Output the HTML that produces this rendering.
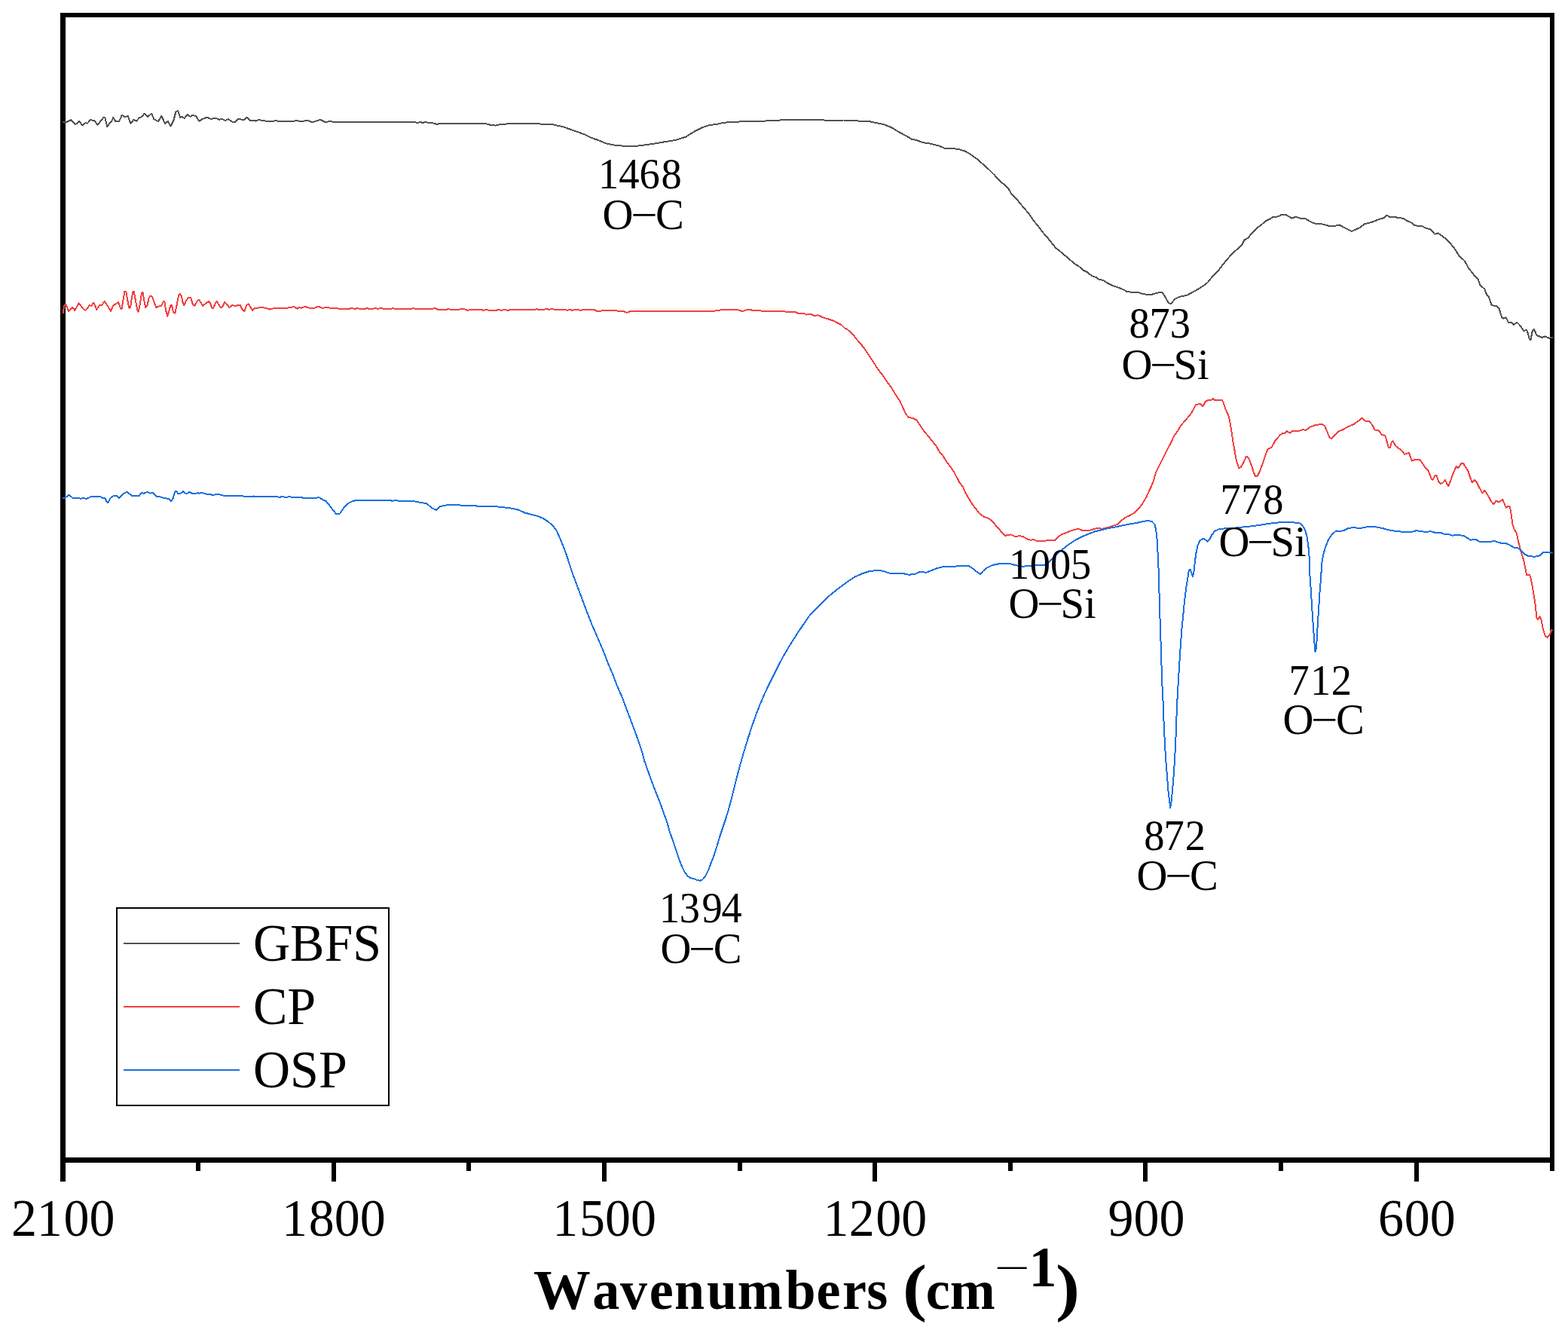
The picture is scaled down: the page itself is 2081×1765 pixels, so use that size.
<!DOCTYPE html>
<html lang="en">
<head>
<meta charset="utf-8">
<style>
html,body{margin:0;padding:0;background:#fff;}
body{width:2081px;height:1765px;overflow:hidden;}
svg{display:block;}
text{font-family:"Liberation Serif",serif;fill:#000;}
.tick{font-size:68px;}
.ann{font-size:55.5px;}
.num{font-size:54.5px;}
.leg{font-size:68px;}
.title{font-size:72px;font-weight:bold;}
.curve{fill:none;stroke-width:2;stroke-linejoin:round;stroke-linecap:butt;}
</style>
</head>
<body>
<svg width="2081" height="1765" viewBox="0 0 2081 1765">
<rect x="0" y="0" width="2081" height="1765" fill="#ffffff"/>
<g id="frame" fill="#000" shape-rendering="crispEdges">
<rect x="80" y="17" width="7" height="1551"/>
<rect x="80" y="17" width="1983" height="6"/>
<rect x="2057" y="17" width="6" height="1537"/>
<rect x="80" y="1536" width="1983" height="7"/>
<rect x="440" y="1540" width="6" height="28"/>
<rect x="799" y="1540" width="6" height="28"/>
<rect x="1158" y="1540" width="6" height="28"/>
<rect x="1517" y="1540" width="6" height="28"/>
<rect x="1877" y="1540" width="6" height="28"/>
<rect x="260" y="1540" width="6" height="14"/>
<rect x="619" y="1540" width="6" height="14"/>
<rect x="979" y="1540" width="6" height="14"/>
<rect x="1338" y="1540" width="6" height="14"/>
<rect x="1697" y="1540" width="6" height="14"/>
</g>
<g id="curves" shape-rendering="crispEdges">
<path class="curve" stroke="#515151" d="M83.3,161.5 L88.7,161.9 L93.9,159.2 L100.2,165.2 L105.1,161.0 L109.3,166.2 L113.7,162.9 L115.7,163.9 L120.1,159.2 L125.3,160.0 L129.5,165.8 L137.4,155.8 L139.2,156.1 L142.3,168.1 L146.5,162.3 L148.0,161.5 L150.4,155.8 L153.3,161.0 L158.1,161.0 L161.9,152.9 L165.8,155.2 L169.6,153.8 L173.5,163.9 L177.3,159.0 L181.2,160.6 L185.1,156.1 L188.0,155.2 L191.4,150.7 L196.2,154.8 L201.1,150.7 L204.3,158.1 L210.1,161.0 L214.4,153.8 L218.8,163.9 L222.7,161.0 L226.5,167.3 L230.4,160.0 L233.3,148.4 L236.1,147.1 L239.0,155.8 L241.9,155.2 L244.8,157.1 L248.7,151.9 L252.5,154.8 L255.4,152.9 L260.2,154.2 L264.5,161.0 L268.0,158.1 L274.7,155.8 L279.5,157.7 L287.2,157.1 L291.1,158.7 L294.9,158.1 L298.8,160.0 L302.7,158.1 L308.4,161.9 L312.3,161.9 L316.1,158.1 L323.9,159.0 L327.7,155.8 L331.6,159.6 L339.3,160.6 L343.1,159.0 L352.8,160.6 L360.5,161.5 L366.3,160.0 L370.1,161.0 L385.5,161.5 L394.2,160.0 L400.0,161.5 L407.7,159.6 L414.5,162.3 L425.1,158.7 L431.8,162.3 L439.5,160.6 L441.4,161.9 L550.4,161.9 L553.3,163.1 L558.1,161.9 L561.0,163.1 L564.8,161.5 L568.7,163.1 L573.5,163.1 L580.2,165.0 L583.1,163.9 L643.9,163.9 L650.6,165.8 L657.3,166.6 L664.1,165.0 L671.8,164.6 L673.7,163.9 L716.1,163.9 L718.1,165.0 L733.5,165.0 L737.3,166.2 L747.0,168.1 L756.6,171.6 L766.3,175.0 L775.9,178.5 L785.5,183.1 L793.3,185.8 L804.1,190.3 L817.6,193.0 L834.9,194.2 L846.5,193.6 L863.9,191.3 L881.2,188.4 L896.6,185.9 L910.1,181.7 L921.7,174.3 L931.3,169.5 L941.0,166.2 L952.5,164.7 L958.3,163.2 L969.9,161.8 L985.3,161.4 L989.2,160.5 L1016.1,160.5 L1027.7,159.9 L1047.0,158.9 L1066.3,159.3 L1085.5,158.9 L1100.0,159.9 L1119.3,159.5 L1138.6,160.5 L1152.0,160.8 L1163.6,163.2 L1173.3,165.3 L1182.9,169.1 L1192.5,174.9 L1202.2,180.1 L1209.9,184.6 L1215.7,185.9 L1225.3,189.2 L1234.9,190.7 L1246.5,193.6 L1254.2,196.9 L1263.9,196.9 L1273.5,198.4 L1281.2,200.7 L1287.0,204.2 L1296.6,211.0 L1304.3,217.7 L1312.0,224.5 L1319.8,232.2 L1325.5,238.9 L1331.3,243.7 L1339.0,251.4 L1342.9,258.2 L1350.6,265.9 L1356.4,273.0 L1366.0,284.2 L1371.8,292.9 L1377.6,299.6 L1383.4,307.7 L1389.2,314.1 L1394.9,321.2 L1400.7,328.6 L1408.4,334.7 L1418.1,343.0 L1425.8,349.8 L1431.6,353.2 L1437.3,358.4 L1443.1,361.3 L1448.9,366.1 L1454.7,368.1 L1458.6,371.0 L1464.3,371.9 L1470.1,375.8 L1475.9,378.7 L1485.5,382.0 L1491.3,384.5 L1495.2,387.0 L1504.0,388.0 L1511.7,388.3 L1517.5,390.3 L1527.1,391.2 L1534.8,388.9 L1541.6,387.6 L1544.5,390.8 L1548.3,397.6 L1551.2,402.4 L1554.1,403.0 L1558.9,397.2 L1565.7,393.7 L1575.3,391.8 L1584.9,386.6 L1592.7,382.2 L1602.3,375.4 L1610.0,365.8 L1617.7,358.1 L1623.5,350.4 L1629.3,343.6 L1635.1,336.5 L1642.8,330.1 L1648.6,324.3 L1651.4,318.6 L1656.3,315.7 L1661.1,309.9 L1665.9,305.6 L1668.8,302.2 L1673.6,298.7 L1679.4,293.5 L1685.2,290.6 L1689.0,288.3 L1696.7,287.3 L1700.3,284.8 L1706.1,284.8 L1714.7,289.6 L1719.6,287.7 L1725.3,289.6 L1732.1,290.0 L1737.9,293.5 L1743.7,296.4 L1754.3,297.3 L1763.9,299.9 L1772.6,299.7 L1777.4,298.3 L1783.2,301.6 L1793.8,307.0 L1804.4,302.2 L1811.1,297.3 L1821.7,294.5 L1831.4,290.6 L1837.1,289.1 L1840.6,285.8 L1843.9,287.7 L1852.6,288.1 L1855.5,289.3 L1862.2,289.6 L1867.0,292.9 L1873.8,295.8 L1877.6,299.3 L1887.3,300.2 L1892.1,302.6 L1898.8,304.5 L1904.2,310.8 L1908.5,309.3 L1918.1,316.2 L1924.9,323.0 L1930.6,330.1 L1936.4,339.4 L1944.1,346.5 L1949.0,356.1 L1953.8,361.5 L1956.7,365.8 L1961.5,370.2 L1964.4,378.3 L1970.2,383.5 L1973.0,390.8 L1975.9,394.3 L1979.8,405.3 L1985.6,405.9 L1989.4,409.2 L1993.3,421.3 L1995.6,422.7 L1998.7,421.3 L2002.0,427.9 L2005.8,427.5 L2008.7,430.9 L2013.5,428.0 L2018.3,432.9 L2022.2,439.0 L2026.1,438.1 L2028.0,442.9 L2029.9,450.6 L2031.5,450.6 L2033.8,439.0 L2035.7,436.7 L2039.6,445.2 L2043.4,446.4 L2046.3,448.1 L2050.2,446.4 L2055.9,448.7 L2060.8,447.7"/>
<path class="curve" stroke="#F14040" d="M83.9,416.2 L84.8,406.5 L86.7,403.6 L88.7,406.5 L91.0,413.3 L94.5,409.0 L96.4,408.1 L99.3,411.9 L102.2,406.5 L104.7,402.3 L108.0,406.5 L110.8,410.4 L113.7,411.9 L116.6,408.5 L118.6,405.2 L121.1,405.8 L124.3,401.9 L126.3,405.8 L128.2,411.0 L132.0,405.2 L134.9,405.2 L138.8,400.0 L141.7,404.2 L144.6,409.0 L147.1,412.9 L150.4,405.2 L153.3,403.6 L157.1,400.9 L159.6,408.1 L161.5,410.4 L163.5,398.4 L165.4,386.5 L167.3,386.5 L169.3,398.4 L171.2,408.7 L173.1,408.1 L175.0,394.6 L176.4,387.3 L177.9,387.3 L180.2,400.4 L182.2,411.0 L183.7,413.9 L186.0,402.3 L188.0,388.4 L189.5,388.4 L191.4,399.4 L193.3,408.1 L195.3,406.1 L197.6,395.5 L199.5,392.7 L202.0,393.6 L204.3,400.4 L207.2,408.1 L211.1,406.5 L214.0,406.1 L216.9,400.0 L218.4,400.4 L220.3,412.9 L222.3,419.6 L224.6,411.9 L226.5,404.8 L228.0,405.2 L230.0,413.9 L232.3,415.8 L234.8,404.2 L237.1,391.7 L239.0,389.8 L241.0,393.6 L242.9,402.3 L244.4,405.2 L247.3,398.4 L250.6,394.6 L253.1,395.0 L256.0,404.2 L258.3,405.8 L261.8,399.4 L264.1,397.5 L267.0,402.3 L268.9,405.8 L272.8,402.9 L277.0,400.0 L279.1,402.3 L281.4,409.0 L283.4,408.5 L285.9,401.9 L287.8,400.0 L290.1,404.2 L293.0,408.1 L294.9,407.7 L298.4,400.9 L300.7,403.3 L304.2,408.1 L308.4,404.8 L312.3,406.5 L316.1,404.6 L319.0,405.2 L321.9,411.5 L324.4,412.9 L327.1,405.2 L329.3,403.3 L331.6,406.1 L335.0,411.9 L338.3,409.0 L347.0,408.1 L352.8,408.7 L357.6,410.6 L364.3,409.0 L372.0,409.4 L381.7,408.5 L390.4,407.1 L394.2,409.6 L397.1,408.1 L400.0,408.7 L404.8,406.9 L409.6,408.5 L417.3,408.8 L422.2,406.7 L428.0,408.8 L431.8,408.1 L452.0,409.8 L463.6,409.8 L466.5,408.8 L471.3,410.0 L474.2,408.8 L477.1,409.8 L484.8,409.8 L486.7,408.8 L489.6,410.0 L495.4,409.8 L498.3,408.8 L501.2,410.0 L505.1,408.8 L508.9,409.8 L519.5,409.8 L521.4,408.8 L523.4,409.8 L546.5,409.8 L548.4,408.8 L550.4,409.8 L574.5,409.8 L577.3,408.8 L581.2,410.8 L592.8,410.8 L595.7,409.8 L597.6,410.8 L609.2,410.8 L612.0,409.8 L615.9,410.0 L620.7,412.1 L623.6,410.8 L639.0,410.8 L641.0,411.9 L645.8,410.8 L649.6,411.9 L658.3,411.9 L661.2,410.8 L665.1,411.9 L669.9,410.8 L673.7,411.9 L678.6,410.8 L710.4,410.8 L712.3,409.8 L714.2,410.8 L721.9,410.8 L725.8,409.8 L728.7,411.0 L732.5,409.8 L736.4,411.0 L750.8,411.0 L752.8,411.9 L756.6,410.8 L759.5,411.9 L762.4,411.0 L768.2,411.0 L770.1,411.9 L774.9,411.0 L788.4,411.0 L792.3,412.9 L808.0,411.8 L827.2,413.0 L832.0,414.9 L836.9,413.0 L854.2,413.0 L873.5,413.4 L912.0,413.4 L941.0,413.0 L950.6,412.4 L956.4,411.4 L979.5,411.4 L985.3,413.0 L991.1,411.1 L1008.4,412.2 L1016.1,413.4 L1037.3,413.0 L1050.0,414.5 L1054.8,413.7 L1058.7,415.6 L1067.3,416.0 L1070.2,417.6 L1077.0,417.0 L1079.9,418.9 L1085.7,418.3 L1093.4,421.8 L1100.1,423.7 L1106.9,426.0 L1111.7,428.6 L1116.5,431.1 L1121.3,435.7 L1124.2,436.8 L1129.0,441.1 L1132.9,444.9 L1136.7,450.1 L1142.5,456.5 L1148.3,464.2 L1154.1,472.9 L1159.9,481.6 L1164.7,489.3 L1171.4,498.0 L1177.2,506.6 L1183.0,514.3 L1188.8,524.0 L1194.6,532.7 L1198.4,541.3 L1202.3,549.6 L1206.1,553.9 L1211.0,554.8 L1216.7,557.7 L1220.6,563.5 L1225.4,570.8 L1231.2,578.0 L1237.0,585.1 L1242.8,592.4 L1246.6,599.2 L1251.4,604.9 L1256.3,612.7 L1262.0,620.4 L1265.9,626.1 L1269.8,633.3 L1273.6,640.6 L1278.4,647.0 L1281.3,654.1 L1286.1,661.8 L1290.0,668.6 L1294.8,674.9 L1299.6,681.1 L1306.4,686.3 L1310.2,686.9 L1316.0,690.7 L1319.9,695.0 L1322.8,699.0 L1326.6,702.9 L1330.5,707.7 L1334.0,711.0 L1337.2,710.0 L1342.0,709.4 L1347.8,712.5 L1352.7,711.0 L1358.4,712.5 L1364.2,715.8 L1368.1,716.7 L1371.9,715.8 L1376.7,718.3 L1385.4,718.3 L1389.3,717.1 L1399.9,717.1 L1407.7,709.8 L1417.3,705.9 L1425.1,703.0 L1431.8,702.0 L1436.6,704.0 L1446.3,703.6 L1455.9,701.1 L1463.6,701.7 L1473.3,699.2 L1482.9,695.9 L1488.7,690.5 L1494.5,686.2 L1500.2,683.7 L1505.1,680.8 L1509.9,676.6 L1515.7,669.3 L1521.4,659.6 L1527.2,647.1 L1531.1,637.5 L1534.0,626.9 L1536.9,621.1 L1542.7,609.5 L1548.4,598.0 L1554.2,587.3 L1558.1,578.7 L1562.9,571.9 L1567.7,564.2 L1573.5,557.5 L1579.3,550.7 L1583.1,544.9 L1587.0,537.2 L1590.8,536.3 L1593.7,536.3 L1595.7,539.2 L1597.6,537.2 L1599.5,533.4 L1602.4,531.4 L1607.2,531.1 L1609.7,529.1 L1612.0,530.9 L1617.8,531.1 L1621.7,530.5 L1623.6,534.3 L1626.5,543.0 L1630.4,551.7 L1632.3,559.4 L1634.2,571.0 L1636.1,584.5 L1638.1,595.1 L1640.0,606.6 L1641.9,614.3 L1644.4,621.1 L1646.7,620.1 L1650.6,613.4 L1653.5,606.6 L1655.4,605.7 L1658.3,610.5 L1661.2,618.2 L1664.1,627.8 L1666.4,632.3 L1668.9,631.7 L1671.8,625.9 L1675.7,615.3 L1679.5,603.7 L1682.4,596.0 L1687.2,594.1 L1692.6,584.6 L1699.3,576.9 L1702.2,574.9 L1705.1,575.5 L1708.0,572.0 L1711.8,574.6 L1715.7,571.5 L1725.3,571.5 L1729.2,570.1 L1733.0,571.1 L1738.8,566.7 L1746.5,563.8 L1755.2,563.0 L1758.1,565.3 L1761.0,572.0 L1764.3,580.1 L1766.8,582.1 L1770.6,578.8 L1777.4,572.0 L1781.2,570.7 L1789.0,566.3 L1796.7,563.0 L1803.4,558.2 L1807.8,554.7 L1813.0,559.5 L1816.9,559.1 L1820.8,563.4 L1824.6,570.5 L1829.4,571.1 L1834.3,577.3 L1838.1,577.8 L1840.0,583.6 L1842.9,594.2 L1844.9,594.2 L1846.8,586.5 L1848.7,585.5 L1852.6,592.3 L1860.3,597.7 L1864.1,602.9 L1869.9,601.0 L1873.8,611.6 L1877.6,610.0 L1884.4,610.0 L1888.2,615.4 L1892.1,621.2 L1895.9,625.1 L1899.8,635.7 L1901.7,636.6 L1904.6,630.8 L1906.5,630.8 L1909.4,639.5 L1912.3,642.0 L1915.2,640.5 L1918.1,637.0 L1920.0,641.4 L1922.3,645.3 L1924.9,638.6 L1928.7,628.0 L1932.6,618.9 L1935.5,621.2 L1939.3,615.0 L1942.2,615.0 L1945.1,620.2 L1948.0,624.1 L1950.9,632.8 L1953.8,640.5 L1956.7,637.2 L1958.6,638.0 L1962.4,645.3 L1967.3,654.4 L1970.2,651.1 L1974.0,655.9 L1978.8,665.0 L1982.1,669.0 L1985.6,664.6 L1989.4,666.5 L1994.3,662.7 L1996.2,667.5 L1998.7,673.6 L2002.0,671.7 L2003.9,672.3 L2005.8,683.9 L2007.7,697.3 L2009.7,702.2 L2013.0,708.0 L2015.5,720.5 L2018.3,731.1 L2022.2,743.6 L2026.1,763.3 L2029.9,762.5 L2031.8,767.7 L2034.7,784.1 L2037.2,799.5 L2039.6,820.7 L2041.1,821.7 L2043.4,818.4 L2045.3,821.7 L2048.2,836.1 L2050.7,843.9 L2054.0,845.8 L2056.9,841.9 L2058.8,836.1 L2060.4,837.1"/>
<path class="curve" stroke="#1A6FDF" d="M83.3,661.0 L86.7,660.6 L91.6,656.7 L96.4,660.8 L104.1,661.0 L107.0,661.9 L110.8,660.8 L114.7,661.9 L121.4,659.0 L133.0,658.8 L135.9,660.6 L139.2,661.0 L141.7,665.8 L143.6,667.1 L146.5,661.0 L150.4,658.1 L155.2,658.1 L158.1,661.0 L163.9,655.2 L168.7,652.7 L171.6,655.2 L175.4,658.1 L180.2,658.5 L185.1,657.7 L188.0,653.8 L190.8,654.8 L195.7,652.7 L199.5,654.8 L202.4,653.8 L208.2,658.8 L212.0,659.2 L217.8,661.0 L223.6,661.9 L227.1,665.2 L229.4,661.9 L232.3,652.3 L234.2,652.3 L236.1,654.8 L240.0,654.6 L242.9,651.9 L246.7,655.2 L249.6,654.2 L251.6,652.9 L255.4,655.2 L260.2,654.8 L262.2,653.8 L264.1,654.8 L267.0,653.6 L273.7,655.8 L280.5,656.5 L283.4,657.1 L287.2,655.6 L293.0,656.7 L297.8,658.1 L321.9,658.1 L323.9,659.0 L335.4,659.0 L336.4,658.1 L337.3,659.0 L368.2,659.0 L370.1,660.0 L374.9,659.0 L379.8,660.0 L383.6,659.0 L387.5,659.8 L399.0,659.8 L400.0,659.8 L401.9,660.8 L417.3,661.2 L423.1,660.0 L428.0,662.9 L432.8,665.2 L436.6,669.6 L441.4,676.4 L445.9,681.6 L451.1,681.6 L455.9,674.5 L461.7,668.3 L467.5,665.2 L473.3,663.9 L517.6,663.9 L520.5,664.8 L524.3,663.9 L530.1,664.8 L548.4,664.8 L554.2,666.2 L560.0,667.3 L566.2,668.1 L570.6,672.0 L575.4,675.4 L579.3,676.8 L584.1,672.1 L588.9,671.2 L594.7,670.0 L610.1,670.0 L612.0,671.0 L631.3,671.0 L633.3,672.0 L658.3,672.0 L662.2,672.7 L669.9,673.5 L677.6,674.5 L687.2,676.4 L696.9,680.6 L706.5,683.1 L714.2,685.1 L721.0,688.0 L727.7,692.4 L733.5,697.6 L738.3,703.4 L742.2,712.0 L747.0,723.6 L751.8,736.1 L756.6,751.6 L762.4,768.0 L768.2,783.4 L774.0,798.8 L779.8,814.2 L785.5,828.7 L790.4,840.0 L795.4,851.6 L801.2,865.1 L807.0,880.5 L813.7,895.9 L819.5,911.3 L826.3,926.7 L832.0,942.2 L837.8,957.6 L843.6,973.0 L848.4,986.5 L852.3,998.1 L855.2,1009.6 L860.0,1023.1 L864.8,1036.6 L869.6,1049.2 L875.4,1063.6 L880.2,1077.1 L885.1,1090.6 L888.9,1104.1 L893.7,1117.6 L897.6,1129.2 L901.4,1140.7 L905.3,1150.4 L909.2,1158.1 L913.0,1162.9 L916.9,1165.4 L920.7,1165.8 L924.6,1167.7 L929.0,1168.7 L932.3,1167.3 L936.1,1162.9 L940.0,1155.2 L943.9,1144.6 L947.7,1134.9 L951.6,1122.4 L955.4,1109.9 L959.3,1098.3 L963.1,1086.7 L967.0,1074.2 L969.9,1063.6 L972.8,1052.0 L975.7,1040.5 L979.1,1027.0 L982.4,1014.5 L986.3,1001.0 L990.1,988.4 L994.0,975.9 L998.8,961.4 L1003.6,948.0 L1008.4,935.4 L1014.2,921.9 L1020.0,909.4 L1026.7,895.9 L1033.5,882.4 L1040.2,869.9 L1047.0,858.3 L1053.7,847.7 L1058.6,840.0 L1073.3,818.3 L1082.9,807.7 L1092.5,798.1 L1102.2,789.4 L1111.8,781.7 L1123.4,773.0 L1134.9,765.3 L1144.6,761.1 L1154.2,758.0 L1163.9,757.0 L1171.6,757.6 L1181.2,760.9 L1198.6,761.1 L1206.3,762.8 L1214.0,761.8 L1221.7,758.6 L1229.4,759.9 L1237.1,756.6 L1244.8,753.7 L1252.5,752.0 L1278.9,751.2 L1285.7,750.8 L1291.4,754.7 L1297.2,759.5 L1301.1,761.8 L1304.9,757.6 L1309.8,753.7 L1317.5,749.9 L1327.1,748.0 L1340.6,748.0 L1348.3,750.3 L1358.0,751.8 L1365.7,750.8 L1375.3,749.9 L1384.9,750.5 L1390.7,747.0 L1398.4,739.3 L1408.1,730.6 L1417.7,722.9 L1427.3,716.7 L1438.9,710.9 L1452.4,705.5 L1467.8,701.7 L1481.3,699.2 L1496.7,695.9 L1510.2,693.6 L1518.0,691.7 L1523.7,691.1 L1528.6,692.0 L1532.4,695.9 L1534.3,703.6 L1535.7,717.1 L1536.7,736.4 L1537.6,755.7 L1538.3,779.3 L1539.1,808.2 L1540.2,841.0 L1541.2,871.8 L1542.1,902.7 L1543.5,929.6 L1544.5,956.6 L1545.4,975.9 L1546.4,995.2 L1547.7,1014.5 L1549.3,1033.7 L1550.6,1051.1 L1552.2,1062.7 L1553.1,1071.9 L1554.7,1062.7 L1556.0,1049.2 L1557.6,1029.9 L1558.9,1010.6 L1559.9,991.3 L1560.8,972.0 L1561.4,952.8 L1562.4,929.6 L1563.7,906.5 L1565.1,883.4 L1566.6,860.2 L1568.2,837.1 L1570.1,817.8 L1572.0,798.6 L1574.3,779.3 L1576.3,767.7 L1577.7,757.6 L1579.6,755.7 L1581.6,761.4 L1583.1,764.9 L1584.5,758.6 L1585.8,746.0 L1587.3,734.5 L1589.3,724.8 L1592.2,718.1 L1596.0,714.8 L1598.9,715.6 L1602.8,718.7 L1605.7,715.2 L1608.6,709.4 L1612.4,704.6 L1618.2,702.1 L1625.9,701.3 L1635.5,701.3 L1642.9,700.1 L1656.4,698.8 L1669.9,697.2 L1683.4,694.9 L1696.9,693.4 L1708.4,693.0 L1723.9,693.8 L1727.7,696.3 L1731.6,702.0 L1734.5,711.7 L1736.4,725.2 L1737.7,740.6 L1738.2,760.0 L1739.5,779.3 L1741.1,804.3 L1742.6,827.5 L1744.0,846.7 L1744.9,860.2 L1745.5,865.1 L1746.9,860.2 L1747.8,846.7 L1748.8,827.5 L1750.1,808.2 L1751.3,788.9 L1752.7,771.6 L1754.3,747.5 L1756.2,735.9 L1759.1,726.3 L1762.9,716.6 L1767.7,708.9 L1773.5,704.5 L1777.4,705.1 L1783.2,704.1 L1789.0,701.2 L1797.6,699.7 L1801.5,701.2 L1806.3,700.8 L1814.0,699.3 L1825.6,699.3 L1835.2,701.2 L1844.9,703.7 L1854.5,705.1 L1864.1,706.0 L1873.8,706.0 L1879.6,704.1 L1885.3,705.1 L1893.0,706.0 L1898.8,705.1 L1903.7,706.6 L1912.3,707.0 L1917.1,708.9 L1923.9,709.5 L1927.7,710.8 L1931.6,709.9 L1942.2,710.8 L1947.0,713.7 L1951.8,716.6 L1958.6,716.0 L1963.4,718.6 L1972.1,719.5 L1983.7,718.0 L1991.4,720.5 L1997.1,720.5 L2002.9,723.0 L2009.7,726.8 L2014.5,727.2 L2019.3,731.1 L2023.2,735.5 L2028.0,737.8 L2036.7,738.8 L2043.4,737.3 L2048.2,733.0 L2056.9,732.6 L2060.4,734.0"/>
</g>
<g id="ticklabels">
<text class="tick" transform="translate(16.5 1640) scale(1 1.025)" x="-1.5 32.2 68.0 102.0">2100</text>
<text class="tick" transform="translate(375.7 1640) scale(1 1.025)" x="-1.8 34.0 68.0 102.0">1800</text>
<text class="tick" transform="translate(735.0 1640) scale(1 1.025)" x="-1.8 34.0 68.0 102.0">1500</text>
<text class="tick" transform="translate(1094.2 1640) scale(1 1.025)" x="-1.8 32.5 68.0 102.0">1200</text>
<text class="tick" transform="translate(1470.5 1640) scale(1 1.025)" x="0.0 34.0 68.0">900</text>
<text class="tick" transform="translate(1829.7 1640) scale(1 1.025)" x="-0.6 34.0 68.0">600</text>
</g>
<g id="annotations">
<text class="ann num" transform="translate(794.0 249.8) scale(1 1.035)" x="0.0 27.3 54.5 83.4">1468</text>
<text class="ann" transform="translate(799.6 304.1) scale(1.02 1.015)">O<tspan x="36.9" textLength="34.7" lengthAdjust="spacingAndGlyphs">−</tspan><tspan x="69.1">C</tspan></text>
<text class="ann num" transform="translate(1498.4 447.8) scale(1 1.035)" x="0.0 27.1 54.3">873</text>
<text class="ann" transform="translate(1488.4 503.3) scale(1.02 1.015)">O<tspan x="36.9" textLength="34.7" lengthAdjust="spacingAndGlyphs">−</tspan><tspan x="67.7">Si</tspan></text>
<text class="ann num" transform="translate(1619.4 681.7) scale(1 1.035)" x="0.0 27.9 56.9">778</text>
<text class="ann" transform="translate(1617.4 738.4) scale(1.02 1.015)">O<tspan x="36.9" textLength="34.7" lengthAdjust="spacingAndGlyphs">−</tspan><tspan x="67.7">Si</tspan></text>
<text class="ann num" transform="translate(1338.9 767.5) scale(1 1.035)" x="0.0 27.9 55.0 82.0">1005</text>
<text class="ann" transform="translate(1338.4 819.5) scale(1.02 1.015)">O<tspan x="36.9" textLength="34.7" lengthAdjust="spacingAndGlyphs">−</tspan><tspan x="67.7">Si</tspan></text>
<text class="ann num" transform="translate(1710.4 921.8) scale(1 1.035)" x="0.0 28.7 56.3">712</text>
<text class="ann" transform="translate(1702.5 973.5) scale(1.02 1.015)">O<tspan x="36.9" textLength="34.7" lengthAdjust="spacingAndGlyphs">−</tspan><tspan x="69.1">C</tspan></text>
<text class="ann num" transform="translate(1518.3 1127.8) scale(1 1.035)" x="0.0 26.1 54.4">872</text>
<text class="ann" transform="translate(1508.6 1180.7) scale(1.02 1.015)">O<tspan x="36.9" textLength="34.7" lengthAdjust="spacingAndGlyphs">−</tspan><tspan x="69.1">C</tspan></text>
<text class="ann num" transform="translate(875.0 1223.7) scale(1 1.035)" x="0.0 26.8 56.5 82.4">1394</text>
<text class="ann" transform="translate(876.4 1278.4) scale(1.02 1.015)">O<tspan x="36.9" textLength="34.7" lengthAdjust="spacingAndGlyphs">−</tspan><tspan x="69.1">C</tspan></text>
</g>
<g id="legend">
<rect x="155" y="1205" width="361" height="262" fill="#fff" stroke="#000" stroke-width="2" shape-rendering="crispEdges"/>
<rect x="164" y="1250.5" width="154" height="2" fill="#515151" shape-rendering="crispEdges"/>
<rect x="164" y="1335.0" width="154" height="2" fill="#F14040" shape-rendering="crispEdges"/>
<rect x="164" y="1418.5" width="154" height="2" fill="#1A6FDF" shape-rendering="crispEdges"/>
<text class="leg" transform="translate(336 1274.5) scale(1 1.02)">GBFS</text>
<text class="leg" transform="translate(336 1358.8) scale(1 1.02)">CP</text>
<text class="leg" transform="translate(336 1442.7) scale(1 1.02)">OSP</text>
</g>
<g id="xtitle">
<text class="title" transform="translate(0 1736.5) scale(1 1.03)" style="font-size:72px"><tspan x="707.9" textLength="75.8" lengthAdjust="spacingAndGlyphs">W</tspan><tspan x="786.3 822.9 861.8 894.9 937.9 978.7 1042.5 1083.5 1117.9 1150.3">avenumbers</tspan> <tspan x="1197.9" font-size="81.5" textLength="32.0" lengthAdjust="spacingAndGlyphs">(</tspan><tspan x="1228.7 1260.7">cm</tspan><tspan x="1319.3" dy="-35.53" font-size="50" font-weight="normal" textLength="47.2" lengthAdjust="spacingAndGlyphs">−</tspan><tspan x="1365.6" dy="6.99" font-size="74">1</tspan><tspan x="1400.9" dy="28.54" font-size="81.5" textLength="32.0" lengthAdjust="spacingAndGlyphs">)</tspan></text>
</g>
</svg>
</body>
</html>
